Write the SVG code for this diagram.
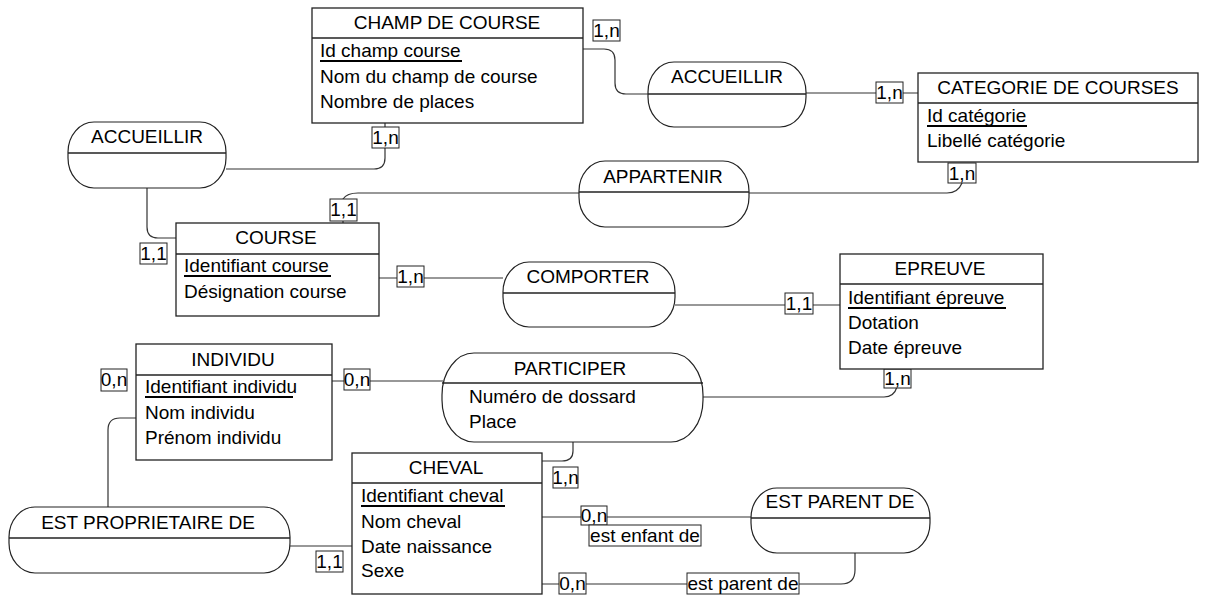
<svg xmlns="http://www.w3.org/2000/svg" width="1213" height="596" viewBox="0 0 1213 596">
<style>
text{font-family:"Liberation Sans",Arial,sans-serif;font-size:19px;fill:#000}
.t{text-anchor:middle}
.box{fill:#fff;stroke:#222;stroke-width:1.3}
.sep{stroke:#222;stroke-width:1.3}
.assoc{fill:#fff;stroke:#222;stroke-width:1.2}
.ul{stroke:#000;stroke-width:2}
.c{fill:none;stroke:#333;stroke-width:1.2}
.lb{fill:#fff;stroke:#222;stroke-width:1}
</style>
<rect width="1213" height="596" fill="#fff"/>
<g id="connectors">
<path class="c" d="M583,49 H604 Q615,49 615,60 V83 Q615,94 626,94 H648"/>
<path class="c" d="M806,93 H918"/>
<path class="c" d="M385,123 V148 V158 Q385,169 374,169 H226"/>
<path class="c" d="M147,188 V227 Q147,238 158,238 H176"/>
<path class="c" d="M343,223 V199 Q347,193 358,193 H579"/>
<path class="c" d="M749,193 H947 Q958,193 962,183 V163"/>
<path class="c" d="M379,278 H503"/>
<path class="c" d="M675,305 H840"/>
<path class="c" d="M703,397 H884 Q894,397 897,387 V369"/>
<path class="c" d="M332,381 H443"/>
<path class="c" d="M136,418 H120 Q108,418 108,430 V507"/>
<path class="c" d="M290,546 H352"/>
<path class="c" d="M573,442 V451 Q573,461 562,461 H542"/>
<path class="c" d="M542,517 H751"/>
<path class="c" d="M542,584 H841 Q855,584 855,570 V553"/>
<g id="labels">
<rect class="lb" x="593" y="20" width="27" height="21"/><text x="606.5" y="37" class="t">1,n</text>
<rect class="lb" x="876" y="82" width="27" height="21"/><text x="889.5" y="99" class="t">1,n</text>
<rect class="lb" x="372" y="127" width="27" height="21"/><text x="385.5" y="144" class="t">1,n</text>
<rect class="lb" x="140" y="243" width="27" height="21"/><text x="153.5" y="260" class="t">1,1</text>
<rect class="lb" x="330" y="199" width="27" height="22"/><text x="343.5" y="216" class="t">1,1</text>
<rect class="lb" x="948" y="163" width="28" height="20"/><text x="962" y="180" class="t">1,n</text>
<rect class="lb" x="397" y="266" width="27" height="21"/><text x="410.5" y="283" class="t">1,n</text>
<rect class="lb" x="785" y="293" width="28" height="21"/><text x="799" y="310" class="t">1,1</text>
<rect class="lb" x="884" y="369" width="27" height="19"/><text x="897.5" y="385" class="t">1,n</text>
<rect class="lb" x="344" y="369" width="26" height="21"/><text x="357" y="386" class="t">0,n</text>
<rect class="lb" x="101" y="369" width="26" height="22"/><text x="114" y="386" class="t">0,n</text>
<rect class="lb" x="316" y="551" width="27" height="21"/><text x="329.5" y="568" class="t">1,1</text>
<rect class="lb" x="553" y="467" width="25" height="21"/><text x="565.5" y="484" class="t">1,n</text>
<rect class="lb" x="581" y="506" width="26" height="19"/><text x="594" y="522" class="t">0,n</text>
<rect class="lb" x="589" y="525" width="112" height="21"/><text x="645" y="542" class="t">est enfant de</text>
<rect class="lb" x="559" y="573" width="27" height="21"/><text x="572.5" y="590" class="t">0,n</text>
<rect class="lb" x="687" y="573" width="112" height="21"/><text x="743" y="590" class="t">est parent de</text>
</g>
</g>
<g id="champ-de-course">
<rect class="box" x="312" y="8" width="271" height="115"/>
<line class="sep" x1="312" y1="38" x2="583" y2="38"/>
<text x="447" y="29" class="t">CHAMP DE COURSE</text>
<text x="320" y="57">Id champ course</text>
<line class="ul" x1="320" y1="61" x2="462" y2="61"/>
<text x="320" y="83">Nom du champ de course</text>
<text x="320" y="108">Nombre de places</text>
</g>
<g id="categorie">
<rect class="box" x="918" y="73" width="280" height="89"/>
<line class="sep" x1="918" y1="103" x2="1198" y2="103"/>
<text x="1058" y="94" class="t">CATEGORIE DE COURSES</text>
<text x="927" y="122">Id catégorie</text>
<line class="ul" x1="927" y1="126" x2="1027" y2="126"/>
<text x="927" y="147">Libellé catégorie</text>
</g>
<g id="course">
<rect class="box" x="176" y="223" width="203" height="93"/>
<line class="sep" x1="176" y1="254" x2="379" y2="254"/>
<text x="276" y="244" class="t">COURSE</text>
<text x="184" y="272">Identifiant course</text>
<line class="ul" x1="184" y1="276" x2="331" y2="276"/>
<text x="184" y="298">Désignation course</text>
</g>
<g id="epreuve">
<rect class="box" x="840" y="254" width="203" height="115"/>
<line class="sep" x1="840" y1="284" x2="1043" y2="284"/>
<text x="940" y="275" class="t">EPREUVE</text>
<text x="848" y="304">Identifiant épreuve</text>
<line class="ul" x1="848" y1="308" x2="1006" y2="308"/>
<text x="848" y="329">Dotation</text>
<text x="848" y="354">Date épreuve</text>
</g>
<g id="individu">
<rect class="box" x="136" y="344" width="196" height="116"/>
<line class="sep" x1="136" y1="375" x2="332" y2="375"/>
<text x="233" y="366" class="t">INDIVIDU</text>
<text x="145" y="393">Identifiant individu</text>
<line class="ul" x1="145" y1="397" x2="293" y2="397"/>
<text x="145" y="419">Nom individu</text>
<text x="145" y="444">Prénom individu</text>
</g>
<g id="cheval">
<rect class="box" x="352" y="453" width="190" height="141"/>
<line class="sep" x1="352" y1="483" x2="542" y2="483"/>
<text x="446" y="474" class="t">CHEVAL</text>
<text x="361" y="502">Identifiant cheval</text>
<line class="ul" x1="361" y1="506" x2="505" y2="506"/>
<text x="361" y="528">Nom cheval</text>
<text x="361" y="553">Date naissance</text>
<text x="361" y="577">Sexe</text>
</g>
<g id="accueillir-1">
<rect class="assoc" x="648" y="62" width="158" height="65" rx="26" ry="30"/>
<line class="sep" x1="648" y1="94" x2="806" y2="94"/>
<text x="727" y="83" class="t">ACCUEILLIR</text>
</g>
<g id="accueillir-2">
<rect class="assoc" x="68" y="122" width="158" height="66" rx="26" ry="30"/>
<line class="sep" x1="68" y1="153" x2="226" y2="153"/>
<text x="147" y="143" class="t">ACCUEILLIR</text>
</g>
<g id="appartenir">
<rect class="assoc" x="579" y="161" width="170" height="66" rx="26" ry="30"/>
<line class="sep" x1="579" y1="192" x2="749" y2="192"/>
<text x="663" y="183" class="t">APPARTENIR</text>
</g>
<g id="comporter">
<rect class="assoc" x="503" y="262" width="172" height="65" rx="26" ry="30"/>
<line class="sep" x1="503" y1="293" x2="675" y2="293"/>
<text x="588" y="283" class="t">COMPORTER</text>
</g>
<g id="participer">
<rect class="assoc" x="442" y="353" width="261" height="89" rx="32" ry="42"/>
<line class="sep" x1="442" y1="383" x2="703" y2="383"/>
<text x="570" y="375" class="t">PARTICIPER</text>
<text x="469" y="403">Numéro de dossard</text>
<text x="469" y="428">Place</text>
</g>
<g id="est-proprietaire-de">
<rect class="assoc" x="9" y="507" width="281" height="66" rx="26" ry="30"/>
<line class="sep" x1="9" y1="538" x2="290" y2="538"/>
<text x="148" y="529" class="t">EST PROPRIETAIRE DE</text>
</g>
<g id="est-parent-de">
<rect class="assoc" x="751" y="488" width="179" height="65" rx="26" ry="30"/>
<line class="sep" x1="751" y1="518" x2="930" y2="518"/>
<text x="840" y="508" class="t">EST PARENT DE</text>
</g>
</svg>
